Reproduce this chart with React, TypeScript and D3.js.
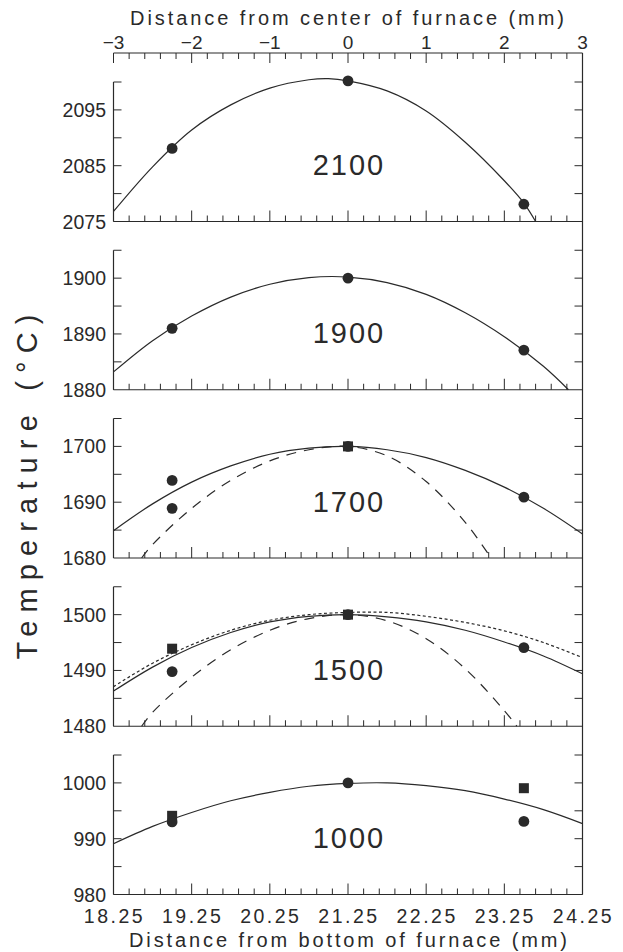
import React from 'react';
import * as d3 from 'd3';

const topTickValues = [-3, -2, -1, 0, 1, 2, 3];
const bottomTickValues = [18.25, 19.25, 20.25, 21.25, 22.25, 23.25, 24.25];
const panelNames = ['2100', '1900', '1700', '1500', '1000'];
const panelMins = [2075, 1880, 1680, 1480, 980];
const panelSpan = 25;
const yLabelTicks = [
  [2075, 2085, 2095],
  [1880, 1890, 1900],
  [1680, 1690, 1700],
  [1480, 1490, 1500],
  [980, 990, 1000],
];

type P = [number, number];

const solidCurves: P[][] = [
  [[-3, 2076.8], [-2.5, 2084.8], [-2, 2091.4], [-1.5, 2095.9], [-1, 2098.9], [-0.5, 2100.4], [-0.25, 2100.6], [0, 2100.2], [0.5, 2098.4], [1, 2094.8], [1.5, 2089.2], [2, 2082.3], [2.25, 2078.3], [2.4, 2075]],
  [[-3, 1883.2], [-2.5, 1888.8], [-2, 1893.2], [-1.5, 1896.6], [-1, 1898.9], [-0.5, 1900.1], [0, 1900.2], [0.5, 1899.2], [1, 1897.1], [1.5, 1893.8], [2, 1889.5], [2.5, 1884.2], [2.82, 1880]],
  [[-3, 1684.9], [-2.5, 1689.7], [-2, 1693.6], [-1.5, 1696.5], [-1, 1698.6], [-0.5, 1699.7], [0, 1700], [0.5, 1699.4], [1, 1698.0], [1.5, 1695.7], [2, 1692.7], [2.5, 1688.9], [3, 1684.3]],
  [[-3, 1486.3], [-2.5, 1490.6], [-2, 1494.1], [-1.5, 1496.8], [-1, 1498.7], [-0.5, 1499.7], [0, 1500], [0.5, 1499.6], [1, 1498.7], [1.5, 1497.2], [2, 1495.1], [2.5, 1492.6], [3, 1489.4]],
  [[-3, 989.1], [-2.5, 992.2], [-2, 994.7], [-1.5, 996.8], [-1, 998.3], [-0.5, 999.4], [0, 999.9], [0.5, 1000], [1, 999.5], [1.5, 998.6], [2, 997.1], [2.5, 995.2], [3, 992.7]],
];

const dashedCurves: (P[] | null)[] = [
  null,
  null,
  [[-2.64, 1680], [-2.5, 1682.4], [-2, 1688.9], [-1.5, 1693.9], [-1, 1697.4], [-0.5, 1699.4], [0, 1700], [0.5, 1698.3], [1, 1693.7], [1.5, 1686.4], [1.83, 1680]],
  [[-2.64, 1480], [-2.5, 1482.5], [-2, 1488.8], [-1.5, 1493.7], [-1, 1497.2], [-0.5, 1499.3], [0, 1500], [0.5, 1498.9], [1, 1495.7], [1.5, 1490.3], [2, 1482.8], [2.16, 1480]],
  null,
];

const dottedCurves: (P[] | null)[] = [
  null,
  null,
  null,
  [[-3, 1487.1], [-2.5, 1491.3], [-2, 1494.6], [-1.5, 1497.2], [-1, 1499.0], [-0.5, 1500.0], [0, 1500.4], [0.5, 1500.4], [1, 1499.7], [1.5, 1498.6], [2, 1497.1], [2.5, 1495.0], [3, 1492.3]],
  null,
];

const circlePoints: P[][] = [
  [[-2.25, 2088.1], [0, 2100.2], [2.25, 2078.1]],
  [[-2.25, 1891], [0, 1900], [2.25, 1887.1]],
  [[-2.25, 1693.9], [-2.25, 1688.9], [0, 1700], [2.25, 1690.9]],
  [[-2.25, 1489.8], [0, 1500], [2.25, 1494.1]],
  [[-2.25, 993], [0, 1000], [2.25, 993.1]],
];

const squarePoints: P[][] = [
  [],
  [],
  [[0, 1700]],
  [[-2.25, 1493.9], [0, 1500]],
  [[-2.25, 994.1], [2.25, 999.05]],
];

const W = 623;
const H = 952;
const X0 = 113.5;
const X1 = 582.5;
const TOP_AXIS_Y = 53;
const PANEL_TOP0 = 82;
const PANEL_STEP = 168.25;
const PANEL_H = 139.5;
const INK = '#2a2a2a';
const FONT = '"Liberation Sans", Arial, sans-serif';

export default function App() {
  const xTop = d3.scaleLinear().domain([-3, 3]).range([X0, X1]);
  const xBottom = d3.scaleLinear().domain([18.25, 24.25]).range([X0, X1]);
  const minorTicks = xTop.ticks(30);
  const isMajor = (v: number) => Math.abs(v - Math.round(v)) < 1e-6;

  const lastBottom = PANEL_TOP0 + 4 * PANEL_STEP + PANEL_H;

  return (
    <svg width={W} height={H} style={{ position: 'absolute', left: 0, top: 0, background: '#fff' }} fontFamily={FONT}>
      <rect x={0} y={0} width={W} height={H} fill="#fff" />
      {/* top title */}
      <text x={347} y={25} fontSize={20} fill={INK} textAnchor="middle" textLength={434} lengthAdjust="spacing">
        Distance from center of furnace (mm)
      </text>
      {/* top axis */}
      <line x1={X0} x2={X1} y1={TOP_AXIS_Y} y2={TOP_AXIS_Y} stroke={INK} strokeWidth={1.2} />
      {minorTicks.map((v, i) => (
        <line key={'tt' + i} x1={xTop(v)} x2={xTop(v)} y1={TOP_AXIS_Y} y2={TOP_AXIS_Y + (isMajor(v) ? 10 : 6)} stroke={INK} strokeWidth={1} />
      ))}
      {topTickValues.map((v) => (
        <text key={'tl' + v} x={xTop(v)} y={49} fontSize={19} fill={INK} textAnchor="middle">
          {v < 0 ? '\u2212' + Math.abs(v) : String(v)}
        </text>
      ))}
      {/* right continuous line */}
      <line x1={X1} x2={X1} y1={TOP_AXIS_Y} y2={lastBottom} stroke={INK} strokeWidth={1.2} />

      {panelNames.map((name, pi) => {
        const top = PANEL_TOP0 + pi * PANEL_STEP;
        const bottom = top + PANEL_H;
        const min = panelMins[pi];
        const y = d3.scaleLinear().domain([min, min + panelSpan]).range([bottom, top]);
        const line = d3
          .line<P>()
          .x((d) => xTop(d[0]))
          .y((d) => y(d[1]))
          .curve(d3.curveCatmullRom.alpha(0.5));
        const yTicks = d3.range(min + 5, min + panelSpan + 0.01, 5);
        const dashed = dashedCurves[pi];
        const dotted = dottedCurves[pi];
        return (
          <g key={name}>
            {/* left axis */}
            <line x1={X0} x2={X0} y1={top} y2={bottom} stroke={INK} strokeWidth={1.2} />
            {/* bottom axis */}
            <line x1={X0} x2={X1} y1={bottom} y2={bottom} stroke={INK} strokeWidth={1.2} />
            {minorTicks.map((v, i) => (
              <line key={'bt' + i} x1={xTop(v)} x2={xTop(v)} y1={bottom} y2={bottom - (isMajor(v) ? 11 : 6)} stroke={INK} strokeWidth={1} />
            ))}
            {yTicks.map((t) => (
              <g key={'yt' + t}>
                <line x1={X0} x2={X0 + 8} y1={y(t)} y2={y(t)} stroke={INK} strokeWidth={1} />
                <line x1={X1} x2={X1 - 8} y1={y(t)} y2={y(t)} stroke={INK} strokeWidth={1} />
              </g>
            ))}
            {yLabelTicks[pi].map((t) => (
              <text key={'yl' + t} x={106} y={y(t) + 7} fontSize={19.5} fill={INK} textAnchor="end">
                {t}
              </text>
            ))}
            {/* curves */}
            <path d={line(solidCurves[pi]) || ''} fill="none" stroke={INK} strokeWidth={1.2} />
            {dotted && <path d={line(dotted) || ''} fill="none" stroke={INK} strokeWidth={1.2} strokeDasharray="3,2.5" />}
            {dashed && <path d={line(dashed) || ''} fill="none" stroke={INK} strokeWidth={1.2} strokeDasharray="10,8" />}
            {/* markers */}
            {squarePoints[pi].map((d, i) => (
              <rect key={'sq' + i} x={xTop(d[0]) - 5} y={y(d[1]) - 5} width={10} height={10} fill={INK} />
            ))}
            {circlePoints[pi].map((d, i) => (
              <circle key={'c' + i} cx={xTop(d[0])} cy={y(d[1])} r={5.4} fill={INK} />
            ))}
            {/* panel label */}
            <text x={xTop(0) + 1} y={top + 93} fontSize={29} fill={INK} textAnchor="middle" letterSpacing={2}>
              {name}
            </text>
          </g>
        );
      })}

      {/* bottom tick labels */}
      {bottomTickValues.map((v) => (
        <text key={'bl' + v} x={xBottom(v) + 1} y={923} fontSize={19.5} fill={INK} textAnchor="middle" letterSpacing={2.5}>
          {v.toFixed(2)}
        </text>
      ))}
      <text x={348} y={947} fontSize={20} fill={INK} textAnchor="middle" textLength={438} lengthAdjust="spacing">
        Distance from bottom of furnace (mm)
      </text>
      {/* y axis label */}
      <text
        transform={`translate(37,487) rotate(-90)`}
        x={0}
        y={0}
        fontSize={29}
        fill={INK}
        textAnchor="middle"
        textLength={345}
        lengthAdjust="spacing"
      >
        Temperature (°C)
      </text>
    </svg>
  );
}
